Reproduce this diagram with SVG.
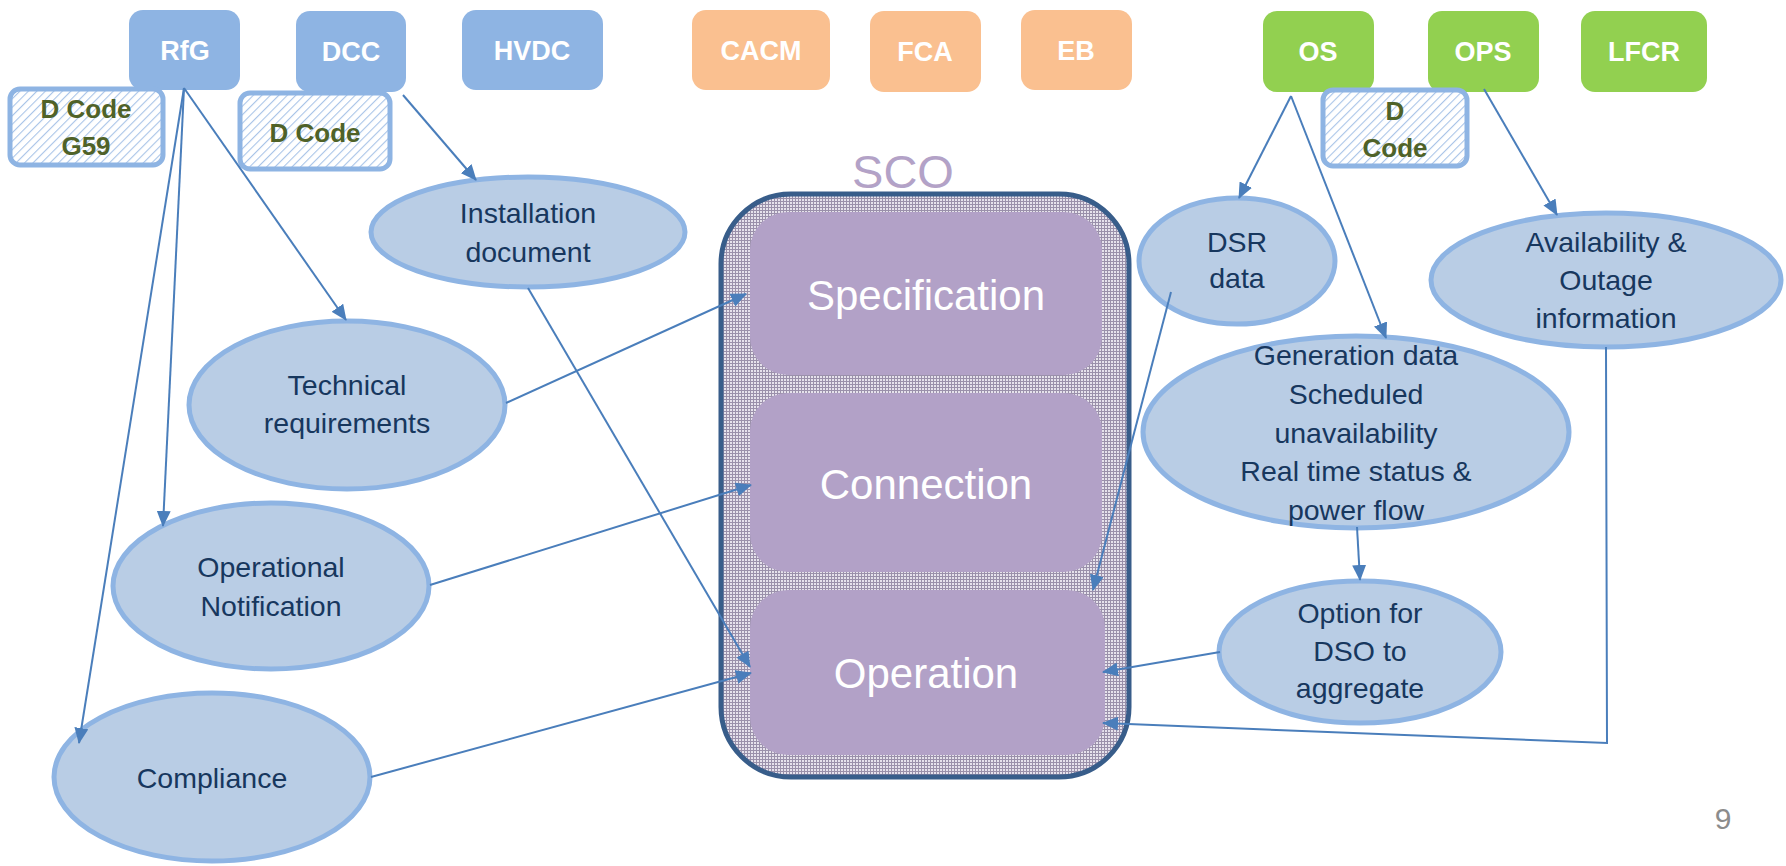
<svg xmlns="http://www.w3.org/2000/svg" width="1786" height="866" viewBox="0 0 1786 866">
<defs>
<pattern id="hatch" patternUnits="userSpaceOnUse" width="6" height="6" patternTransform="rotate(45)">
<rect width="6" height="6" fill="#ffffff"/>
<line x1="0" y1="0" x2="0" y2="6" stroke="#A9C4E8" stroke-width="2.2"/>
</pattern>
<pattern id="grid" patternUnits="userSpaceOnUse" width="3" height="3">
<rect width="3" height="3" fill="#E6E2EC"/>
<line x1="0" y1="0.5" x2="3" y2="0.5" stroke="#9A90AA" stroke-width="1"/>
<line x1="0.5" y1="0" x2="0.5" y2="3" stroke="#9A90AA" stroke-width="1"/>
</pattern>
<marker id="arr" markerUnits="userSpaceOnUse" markerWidth="16" markerHeight="14" refX="15" refY="7" orient="auto">
<path d="M0,0 L16,7 L0,14 z" fill="#4A7EBB"/>
</marker>
</defs>
<style>
.bb{fill:#8EB4E3}
.ob{fill:#FAC090}
.gb{fill:#92D050}
.bt{font-family:"Liberation Sans",Arial,sans-serif;font-weight:bold;font-size:27px;fill:#ffffff;text-anchor:middle}
.dc{fill:url(#hatch);stroke:#8EB4E3;stroke-width:5}
.dt{font-family:"Liberation Sans",Arial,sans-serif;font-weight:bold;font-size:26px;fill:#4F6228;text-anchor:middle}
.el{fill:#B9CDE5;stroke:#8EB4E3;stroke-width:5}
.et{font-family:"Liberation Sans",Arial,sans-serif;font-size:28.5px;fill:#17375E;text-anchor:middle}
.in{fill:#B2A1C7}
.it{font-family:"Liberation Sans",Arial,sans-serif;font-size:42px;fill:#ffffff;text-anchor:middle}
.cn{fill:none;stroke:#4A7EBB;stroke-width:2}
</style>
<rect width="1786" height="866" fill="#ffffff"/>

<g id="RfG"><rect class="bb" x="129" y="10" width="111" height="80" rx="14"/><text class="bt" x="185" y="60">RfG</text></g>
<g id="DCC"><rect class="bb" x="296" y="11" width="110" height="81" rx="14"/><text class="bt" x="351" y="61">DCC</text></g>
<g id="HVDC"><rect class="bb" x="462" y="10" width="141" height="80" rx="14"/><text class="bt" x="532" y="60">HVDC</text></g>
<g id="CACM"><rect class="ob" x="692" y="10" width="138" height="80" rx="14"/><text class="bt" x="761" y="60">CACM</text></g>
<g id="FCA"><rect class="ob" x="870" y="11" width="111" height="81" rx="14"/><text class="bt" x="925" y="61">FCA</text></g>
<g id="EB"><rect class="ob" x="1021" y="10" width="111" height="80" rx="14"/><text class="bt" x="1076" y="60">EB</text></g>
<g id="OS"><rect class="gb" x="1263" y="11" width="111" height="81" rx="14"/><text class="bt" x="1318" y="61">OS</text></g>
<g id="OPS"><rect class="gb" x="1428" y="11" width="111" height="81" rx="14"/><text class="bt" x="1483" y="61">OPS</text></g>
<g id="LFCR"><rect class="gb" x="1581" y="11" width="126" height="81" rx="14"/><text class="bt" x="1644" y="61">LFCR</text></g>

<g id="DCodeG59"><rect class="dc" x="10" y="89" width="153" height="76" rx="10"/><text class="dt" x="86" y="118">D Code</text><text class="dt" x="86" y="155">G59</text></g>
<g id="DCodeDCC"><rect class="dc" x="240" y="93" width="150" height="76" rx="10"/><text class="dt" x="315" y="142">D Code</text></g>
<g id="DCodeOPS"><rect class="dc" x="1323" y="90" width="144" height="76" rx="10"/><text class="dt" x="1395" y="120">D</text><text class="dt" x="1395" y="157">Code</text></g>

<g id="SCO">
<text x="903" y="188" font-family="'Liberation Sans',Arial,sans-serif" font-size="47" fill="#B3A2C7" text-anchor="middle">SCO</text>
<rect x="721" y="194" width="408" height="583" rx="70" fill="url(#grid)" stroke="#385D8A" stroke-width="5"/>
</g>
<g id="Specification"><rect class="in" x="750" y="212" width="352" height="163" rx="38"/><text class="it" x="926" y="310">Specification</text></g>
<g id="Connection"><rect class="in" x="750" y="393" width="352" height="179" rx="38"/><text class="it" x="926" y="499">Connection</text></g>
<g id="Operation"><rect class="in" x="750" y="590" width="355" height="165" rx="38"/><text class="it" x="926" y="688">Operation</text></g>

<g id="Installation"><ellipse class="el" cx="528" cy="232" rx="157" ry="55"/><text class="et" x="528" y="223">Installation</text><text class="et" x="528" y="262">document</text></g>
<g id="Technical"><ellipse class="el" cx="347" cy="405" rx="158" ry="84"/><text class="et" x="347" y="395">Technical</text><text class="et" x="347" y="433">requirements</text></g>
<g id="OperationalNotification"><ellipse class="el" cx="271" cy="586" rx="158" ry="83"/><text class="et" x="271" y="577">Operational</text><text class="et" x="271" y="616">Notification</text></g>
<g id="Compliance"><ellipse class="el" cx="212" cy="777" rx="158" ry="84"/><text class="et" x="212" y="788">Compliance</text></g>
<g id="DSR"><ellipse class="el" cx="1237" cy="261" rx="98" ry="63"/><text class="et" x="1237" y="252">DSR</text><text class="et" x="1237" y="288">data</text></g>
<g id="Availability"><ellipse class="el" cx="1606" cy="280" rx="175" ry="67"/><text class="et" x="1606" y="252">Availability &amp;</text><text class="et" x="1606" y="290">Outage</text><text class="et" x="1606" y="328">information</text></g>
<g id="Generation"><ellipse class="el" cx="1356" cy="432" rx="213" ry="96"/><text class="et" x="1356" y="365">Generation data</text><text class="et" x="1356" y="404">Scheduled</text><text class="et" x="1356" y="443">unavailability</text><text class="et" x="1356" y="481">Real time status &amp;</text><text class="et" x="1356" y="520">power flow</text></g>
<g id="Option"><ellipse class="el" cx="1360" cy="652" rx="141" ry="71"/><text class="et" x="1360" y="623">Option for</text><text class="et" x="1360" y="661">DSO to</text><text class="et" x="1360" y="698">aggregate</text></g>

<g id="connectors">
<line class="cn" x1="184" y1="88" x2="346" y2="320" marker-end="url(#arr)"/>
<line class="cn" x1="184" y1="88" x2="163" y2="526" marker-end="url(#arr)"/>
<line class="cn" x1="184" y1="88" x2="79" y2="743" marker-end="url(#arr)"/>
<line class="cn" x1="403" y1="95" x2="476" y2="180" marker-end="url(#arr)"/>
<line class="cn" x1="528" y1="288" x2="750" y2="667" marker-end="url(#arr)"/>
<line class="cn" x1="506" y1="403" x2="746" y2="294" marker-end="url(#arr)"/>
<line class="cn" x1="430" y1="585" x2="751" y2="485" marker-end="url(#arr)"/>
<line class="cn" x1="371" y1="777" x2="751" y2="673" marker-end="url(#arr)"/>
<line class="cn" x1="1291" y1="96" x2="1239" y2="198" marker-end="url(#arr)"/>
<line class="cn" x1="1291" y1="96" x2="1386" y2="338" marker-end="url(#arr)"/>
<line class="cn" x1="1484" y1="89" x2="1557" y2="215" marker-end="url(#arr)"/>
<line class="cn" x1="1171" y1="292" x2="1093" y2="590" marker-end="url(#arr)"/>
<line class="cn" x1="1357" y1="527" x2="1360" y2="580" marker-end="url(#arr)"/>
<line class="cn" x1="1220" y1="652" x2="1103" y2="672" marker-end="url(#arr)"/>
<polyline class="cn" points="1606,347 1607,743 1103,723" marker-end="url(#arr)"/>
</g>
<text x="1723" y="829" font-family="'Liberation Sans',Arial,sans-serif" font-size="30" fill="#8C8C8C" text-anchor="middle">9</text>
</svg>
